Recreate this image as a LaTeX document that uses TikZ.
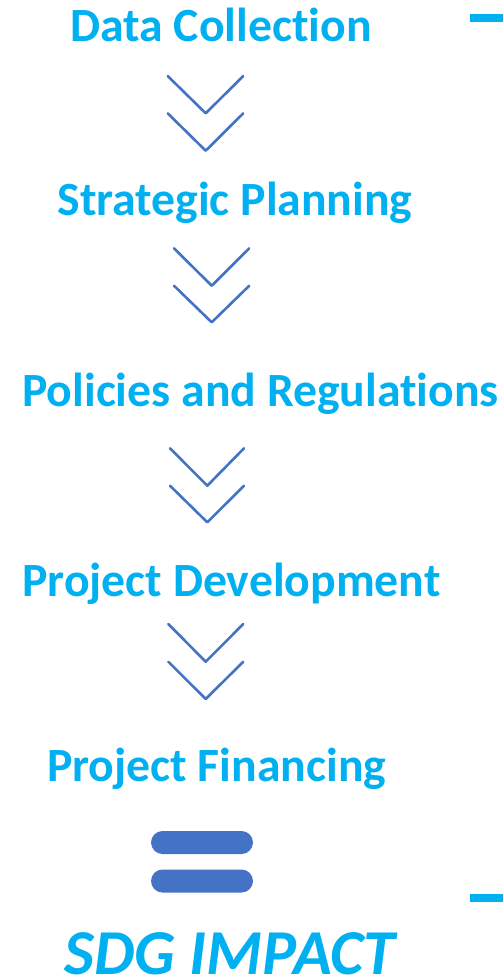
\documentclass[tikz,border=0pt]{standalone}
\usepackage{fontspec}
\setmainfont{Carlito}
\definecolor{stepcyan}{HTML}{00B0F0}
\definecolor{chevblue}{HTML}{4472C4}
\tikzset{
  steptext/.style={text=stepcyan, font=\fontsize{47.7}{50}\selectfont\bfseries, anchor=base, inner sep=0pt},
  chev/.style={chevblue, line width=2.6pt, line cap=round, line join=round},
  bar/.style={fill=chevblue, rounded corners=11.5pt}
}
\begin{document}
\begin{tikzpicture}[x=1pt, y=-1pt]
        \useasboundingbox (0,0) rectangle (503,980);

        % Các bước
        \node[steptext] (data) at (221,41) {Data Collect\kern0pt ion};
        \node[steptext] (plan) at (235,215) {Strategic Planning};
        \node[steptext] (policy) at (260.5,406.5) {Policies and Regulat\kern0pt ions};
        \node[steptext] (dev) at (231.5,596) {Project Development};
        \node[steptext] (fin) at (216.7,781.5) {Project Financing};
        \node[steptext, text depth=0pt, font=\fontsize{64}{66}\selectfont\bfseries\itshape] (sdg) at (230,974) {SDG IMPACT};

        % Mũi tên kép
        \draw[chev] (167.7,76) -- (205.7,113.3) -- (243.3,76);
        \draw[chev] (167.7,113.3) -- (205.7,150.7) -- (243.3,113.3);
        \draw[chev] (174,248.3) -- (211.7,285.7) -- (249.3,248.3);
        \draw[chev] (174,285.7) -- (211.7,322.3) -- (249.3,285.7);
        \draw[chev] (170,448.3) -- (207.3,485.7) -- (244,448.3);
        \draw[chev] (170,485.7) -- (207.3,522.3) -- (244,485.7);
        \draw[chev] (168.3,624) -- (205.7,661.7) -- (243.3,624);
        \draw[chev] (168.3,661.7) -- (205.7,699) -- (243.3,661.7);

        % Dấu bằng
        \fill[bar] (151,831) rectangle (253,854);
        \fill[bar] (151,869.5) rectangle (253,892.5);

        % Vạch bên phải
        \fill[stepcyan] (470,13.5) rectangle (503,22);
        \fill[stepcyan] (470,893.5) rectangle (503,902);
    \end{tikzpicture}
\end{document}
